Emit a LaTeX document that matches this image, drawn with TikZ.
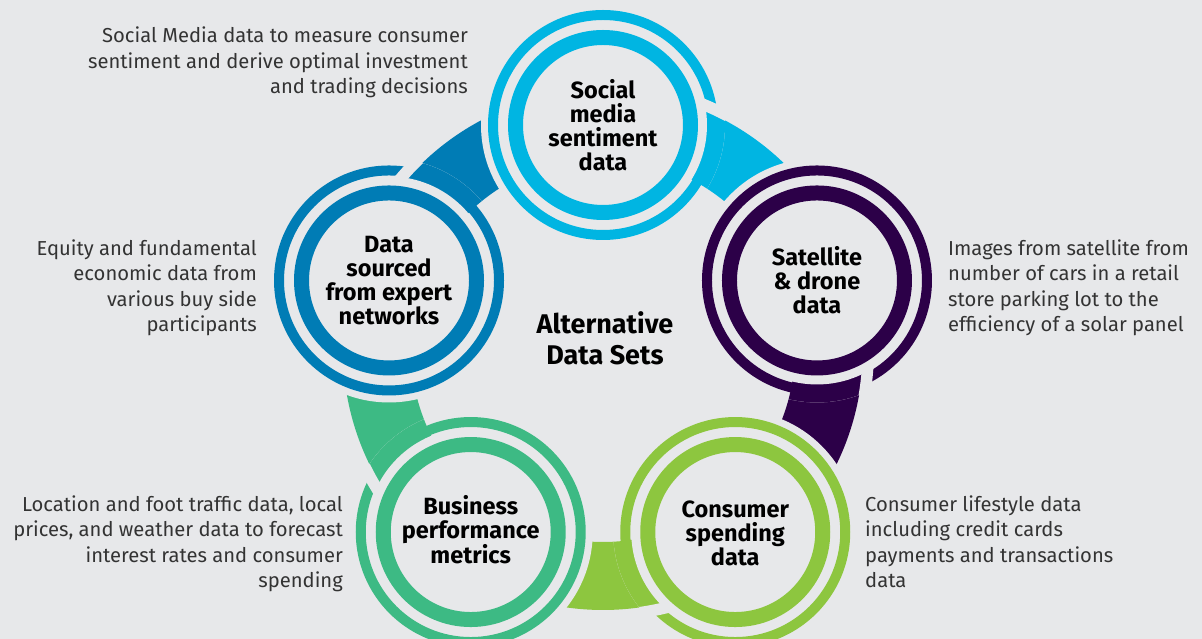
\documentclass[tikz,border=0pt]{standalone}
\usepackage{fontspec}
\setmainfont{Fira Sans}
\definecolor{bgc}{HTML}{E7E8EA}
\definecolor{socc}{HTML}{00B5E2}
\definecolor{satc}{HTML}{2C0048}
\definecolor{conc}{HTML}{8DC63F}
\definecolor{busc}{HTML}{3DBA84}
\definecolor{datc}{HTML}{007CB5}
\definecolor{txtc}{HTML}{333333}
\newcommand\hub[3]{%
  \fill[bgc] (#1) circle[radius=122];
  \begin{scope}
    \clip (#1) circle[radius=122];
    \fill[#3] (#2:260) arc[start angle=#2, end angle=#2-72, radius=260] -- ({#2-72}:192) arc[start angle=#2-72, end angle=#2, radius=192] -- cycle;
    \fill[#3, even odd rule] (#1) circle[radius=115] (#1) circle[radius=105];
    \fill[bgc] (#2:259.5) arc[start angle=#2, end angle=#2-40, radius=259.5] -- ({#2-40}:271) arc[start angle=#2-40, end angle=#2, radius=271] -- cycle;
  \end{scope}
  \fill[bgc] (#1) circle[radius=104];
  \fill[#3, even odd rule] (#1) circle[radius=95] (#1) circle[radius=80];
}
\begin{document}
\begin{tikzpicture}[x=1pt,y=1pt,
  lbl/.style={align=center, inner sep=0, text=black, font=\bfseries\fontsize{23.5}{24}\selectfont},
  desc/.style={inner sep=0, text=txtc, font=\fontsize{20.2}{25.5}\selectfont},
  ctr/.style={align=center, inner sep=0, text=black, font=\bfseries\fontsize{27}{31}\selectfont}]
\useasboundingbox[fill=bgc] (-603,-289) rectangle (599,350);
\coordinate (soc) at (90:225);
\coordinate (sat) at (18:225);
\coordinate (con) at (-54:225);
\coordinate (bus) at (-126:225);
\coordinate (dat) at (162:225);
% connecting bands
\foreach \a/\c in {90/socc, 18/satc, -54/conc, -126/busc, 162/datc}{
  \fill[\c] (\a:260) arc[start angle=\a, end angle=\a-72, radius=260] -- ({\a-72}:192) arc[start angle=\a-72, end angle=\a, radius=192] -- cycle;
}
\hub{soc}{90}{socc}
\hub{sat}{18}{satc}
\hub{con}{-54}{conc}
\hub{bus}{-126}{busc}
\hub{dat}{162}{datc}
% labels
\node[lbl] (soct) at (soc) {Social\\media\\sentiment\\data};
\node[lbl] (satt) at (sat) {Satellite\\\& drone\\data};
\node[lbl] (cont) at ([yshift=-1]con) {Consumer\\spending\\data};
\node[lbl] (bust) at ([yshift=2]bus) {Business\\performance\\metrics};
\node[lbl] (datt) at (dat) {Data\\sourced\\from expert\\networks};
\node[ctr] (center) at (2,12) {Alternative\\Data Sets};
% descriptions
\node[desc, align=right, anchor=base east] (d1) at (-135,256) {Social Media data to measure consumer\\sentiment and derive optimal investment\\and trading decisions};
\node[desc, align=right, anchor=base east] (d2) at (-346,18) {Equity and fundamental\\economic data from\\various buy side\\participants};
\node[desc, align=left, anchor=base west] (d3) at (345,18) {Images from satellite from\\number of cars in a retail\\store parking lot to the\\efficiency of a solar panel};
\node[desc, align=left, anchor=base west] (d4) at (262,-238) {Consumer lifestyle data\\including credit cards\\payments and transactions\\data};
\node[desc, align=right, anchor=base east] (d5) at (-260,-238) {Location and foot traffic data, local\\prices, and weather data to forecast\\interest rates and consumer\\spending};
\end{tikzpicture}
\end{document}
